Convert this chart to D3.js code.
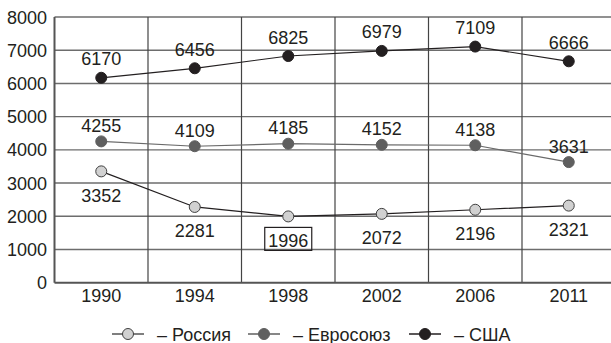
<!DOCTYPE html>
<html>
<head>
<meta charset="utf-8">
<script src="https://cdn.jsdelivr.net/npm/d3@7"></script>
<style>
  body { margin: 0; background: #fff; }
  text { font-family: "Liberation Sans", Arial, sans-serif; fill: #231f20; }
</style>
</head>
<body>
<div id="chart"></div>
<script>
var width = 611;
var height = 343;

var years = ["1990", "1994", "1998", "2002", "2006", "2011"];
var russia = [3352, 2281, 1996, 2072, 2196, 2321];
var eu = [4255, 4109, 4185, 4152, 4138, 3631];
var usa = [6170, 6456, 6825, 6979, 7109, 6666];
var yTicks = [0, 1000, 2000, 3000, 4000, 5000, 6000, 7000, 8000];

var series = [
  {name: "– Россия", values: russia, fill: "#d1d1d1", stroke: "#404040", line: "#231f20", labelDy: 30.5},
  {name: "– Евросоюз", values: eu, fill: "#5f5f5f", stroke: "#5f5f5f", line: "#6a6a6a", labelDy: -9.5},
  {name: "– США", values: usa, fill: "#231f20", stroke: "#231f20", line: "#231f20", labelDy: -12.5}
];

var margin = {top: 17, left: 54.5, right: 615.5, bottom: 282.7};

var svg = d3.select("#chart").append("svg")
  .attr("width", width)
  .attr("height", height);

var x = d3.scaleBand().domain(years).range([margin.left, margin.right]);
var y = d3.scaleLinear().domain([0, 8000]).range([margin.bottom, margin.top]);

// horizontal grid
svg.selectAll(".hgrid")
  .data(yTicks.slice(1))
  .enter().append("line")
    .attr("x1", margin.left).attr("x2", margin.right)
    .attr("y1", function(d) { return y(d); })
    .attr("y2", function(d) { return y(d); })
    .attr("stroke", "#6d6d6d")
    .attr("stroke-width", 1.4);

// vertical grid between categories
svg.selectAll(".vgrid")
  .data(years.slice(1))
  .enter().append("line")
    .attr("x1", function(d) { return x(d); })
    .attr("x2", function(d) { return x(d); })
    .attr("y1", margin.top).attr("y2", margin.bottom)
    .attr("stroke", "#444")
    .attr("stroke-width", 1.2);

// axes lines
svg.append("line")
  .attr("x1", margin.left).attr("x2", margin.left)
  .attr("y1", margin.top).attr("y2", margin.bottom)
  .attr("stroke", "#555").attr("stroke-width", 2);
svg.append("line")
  .attr("x1", margin.left).attr("x2", margin.right)
  .attr("y1", margin.bottom).attr("y2", margin.bottom)
  .attr("stroke", "#555").attr("stroke-width", 2);

// y tick labels
svg.selectAll(".ylab")
  .data(yTicks)
  .enter().append("text")
    .attr("x", 47)
    .attr("y", function(d) { return y(d) + 6.5; })
    .attr("text-anchor", "end")
    .style("font-size", "18px")
    .text(function(d) { return d; });

// x tick labels
svg.selectAll(".xlab")
  .data(years)
  .enter().append("text")
    .attr("x", function(d) { return x(d) + x.bandwidth() / 2; })
    .attr("y", 301.5)
    .attr("text-anchor", "middle")
    .style("font-size", "18px")
    .text(function(d) { return d; });

var line = d3.line()
  .x(function(d, i) { return x(years[i]) + x.bandwidth() / 2; })
  .y(function(d) { return y(d); });

series.forEach(function(s) {
  svg.append("path")
    .attr("d", line(s.values))
    .attr("fill", "none")
    .attr("stroke", s.line)
    .attr("stroke-width", 1.2);

  svg.selectAll(null)
    .data(s.values)
    .enter().append("circle")
      .attr("cx", function(d, i) { return x(years[i]) + x.bandwidth() / 2; })
      .attr("cy", function(d) { return y(d); })
      .attr("r", 5.5)
      .attr("fill", s.fill)
      .attr("stroke", s.stroke)
      .attr("stroke-width", 1);

  svg.selectAll(null)
    .data(s.values)
    .enter().append("text")
      .attr("x", function(d, i) { return x(years[i]) + x.bandwidth() / 2; })
      .attr("y", function(d) { return y(d) + s.labelDy; })
      .attr("text-anchor", "middle")
      .style("font-size", "18px")
      .text(function(d) { return d; });
});

// box round the minimum Russia value
var minI = russia.indexOf(d3.min(russia));
var cx = x(years[minI]) + x.bandwidth() / 2;
svg.append("rect")
  .attr("x", cx - 23.5)
  .attr("y", y(russia[minI]) + 11)
  .attr("width", 47)
  .attr("height", 23)
  .attr("fill", "none")
  .attr("stroke", "#231f20")
  .attr("stroke-width", 1.2);

// legend
var legendX = [128, 264, 425];
series.forEach(function(s, i) {
  var g = svg.append("g").attr("transform", "translate(" + legendX[i] + ",334)");
  g.append("line")
    .attr("x1", -16).attr("x2", 16)
    .attr("stroke", s.fill == "#d1d1d1" ? "#555" : s.fill)
    .attr("stroke-width", 1.5);
  g.append("circle")
    .attr("r", 5.5)
    .attr("fill", s.fill)
    .attr("stroke", s.stroke);
  g.append("text")
    .attr("x", 29)
    .attr("y", 6.5)
    .style("font-size", "18px")
    .text(s.name);
});
</script>
</body>
</html>
